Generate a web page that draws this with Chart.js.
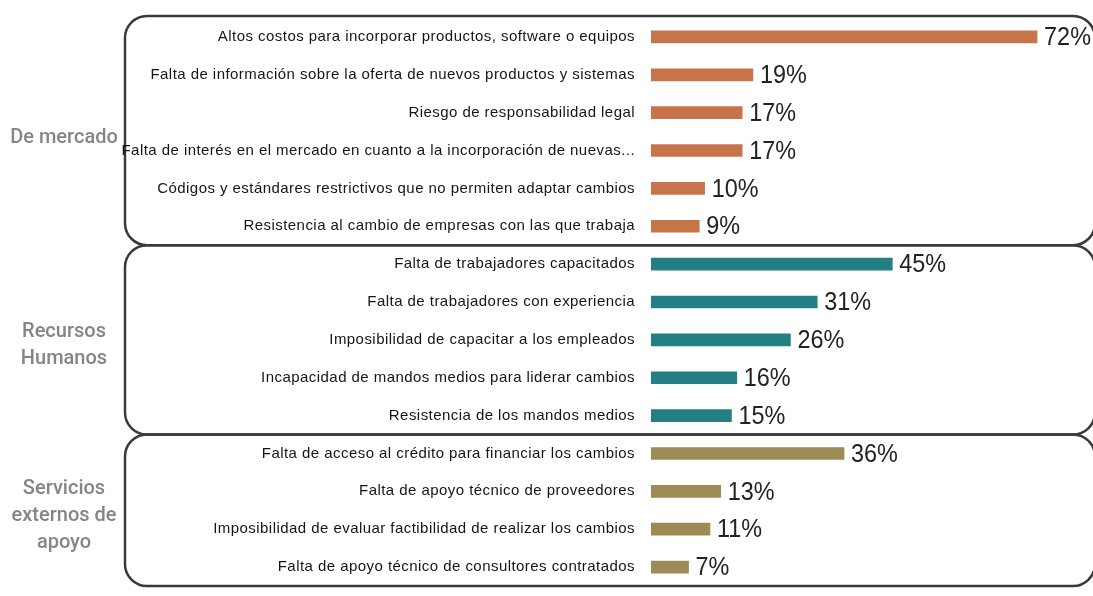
<!DOCTYPE html>
<html>
<head>
<meta charset="utf-8">
<script src="https://cdn.jsdelivr.net/npm/chart.js@4.4.1/dist/chart.umd.min.js"></script>
<style>
  html, body { margin: 0; padding: 0; background: #fff; }
  #wrap { width: 1093px; height: 596px; }
</style>
</head>
<body>
<div id="wrap"><canvas id="barChart"></canvas></div>
<script>
// Chart data arrays
const labels = [
    'Altos costos para incorporar productos, software o equipos',
    'Falta de información sobre la oferta de nuevos productos y sistemas',
    'Riesgo de responsabilidad legal',
    'Falta de interés en el mercado en cuanto a la incorporación de nuevas...',
    'Códigos y estándares restrictivos que no permiten adaptar cambios',
    'Resistencia al cambio de empresas con las que trabaja',
    'Falta de trabajadores capacitados',
    'Falta de trabajadores con experiencia',
    'Imposibilidad de capacitar a los empleados',
    'Incapacidad de mandos medios para liderar cambios',
    'Resistencia de los mandos medios',
    'Falta de acceso al crédito para financiar los cambios',
    'Falta de apoyo técnico de proveedores',
    'Imposibilidad de evaluar factibilidad de realizar los cambios',
    'Falta de apoyo técnico de consultores contratados'
];
const values = [72, 19, 17, 17, 10, 9, 45, 31, 26, 16, 15, 36, 13, 11, 7];

// Groups (name lines, number of rows, bar colour)
const groupNames = [['De mercado'], ['Recursos', 'Humanos'], ['Servicios', 'externos de', 'apoyo']];
const groupSizes = [6, 5, 4];
const groupColors = ['#C8744A', '#237F84', '#9D8B55'];

// one colour per bar, from its group
const barColors = [];
groupSizes.forEach((n, g) => { for (let i = 0; i < n; i++) barColors.push(groupColors[g]); });

// Rounded boxes + group names behind the bars
const groupBoxes = {
    id: 'groupBoxes',
    beforeDraw(chart) {
        const ctx = chart.ctx;
        const y = chart.scales.y;
        const step = y.getPixelForValue(1) - y.getPixelForValue(0);
        ctx.save();
        ctx.letterSpacing = '0px';
        ctx.strokeStyle = '#3a3a3a';
        ctx.lineWidth = 2.5;
        let start = 0;
        groupSizes.forEach((n, g) => {
            const top = y.getPixelForValue(start) - step / 2 - (g === 0 ? 2 : 0);
            const bottom = y.getPixelForValue(start + n - 1) + step / 2;
            ctx.beginPath();
            ctx.roundRect(125, top, 970, bottom - top, 22);
            ctx.stroke();

            // group name
            const mid = (y.getPixelForValue(start) + y.getPixelForValue(start + n - 1)) / 2 + 6;
            const lines = groupNames[g];
            ctx.fillStyle = '#858585';
            ctx.font = '500 20px Roboto';
            ctx.textAlign = 'center';
            ctx.textBaseline = 'middle';
            lines.forEach((t, i) => {
                ctx.fillText(t, 64, mid + (i - (lines.length - 1) / 2) * 27);
            });
            start += n;
        });
        ctx.restore();
        // looser spacing for the category labels drawn next
        ctx.letterSpacing = '0.45px';
    }
};

// Percent labels at the bar ends
const valueLabels = {
    id: 'valueLabels',
    afterDatasetsDraw(chart) {
        const ctx = chart.ctx;
        const meta = chart.getDatasetMeta(0);
        ctx.save();
        ctx.letterSpacing = '0px';
        ctx.fillStyle = '#222';
        ctx.font = '26px "Liberation Sans"';
        ctx.textAlign = 'left';
        ctx.textBaseline = 'middle';
        meta.data.forEach((bar, i) => {
            ctx.save();
            ctx.translate(bar.x + 7, bar.y + 1);
            ctx.scale(0.9, 1);
            ctx.fillText(values[i] + '%', 0, 0);
            ctx.restore();
        });
        ctx.restore();
    }
};

const ctx = document.getElementById('barChart').getContext('2d');
const barChart = new Chart(ctx, {
    type: 'bar',
    data: {
        labels: labels,
        datasets: [{
            data: values,
            backgroundColor: barColors,
            barThickness: 12,
            borderWidth: 0
        }]
    },
    options: {
        indexAxis: 'y',
        responsive: true,
        maintainAspectRatio: false,
        animation: false,
        layout: { padding: { left: 0, right: 13, top: 18, bottom: 10 } },
        plugins: {
            legend: { display: false },
            tooltip: { enabled: false }
        },
        scales: {
            x: { display: false, min: 0, max: 80 },
            y: {
                grid: { display: false },
                border: { display: false },
                ticks: {
                    color: '#151515',
                    padding: 8,
                    font: { family: '"Liberation Sans"', size: 15 }
                },
                afterFit(scale) {
                    scale.width = 651;
                    scale.paddingTop = 0;
                    scale.paddingBottom = 0;
                }
            }
        }
    },
    plugins: [groupBoxes, valueLabels]
});
</script>
</body>
</html>
